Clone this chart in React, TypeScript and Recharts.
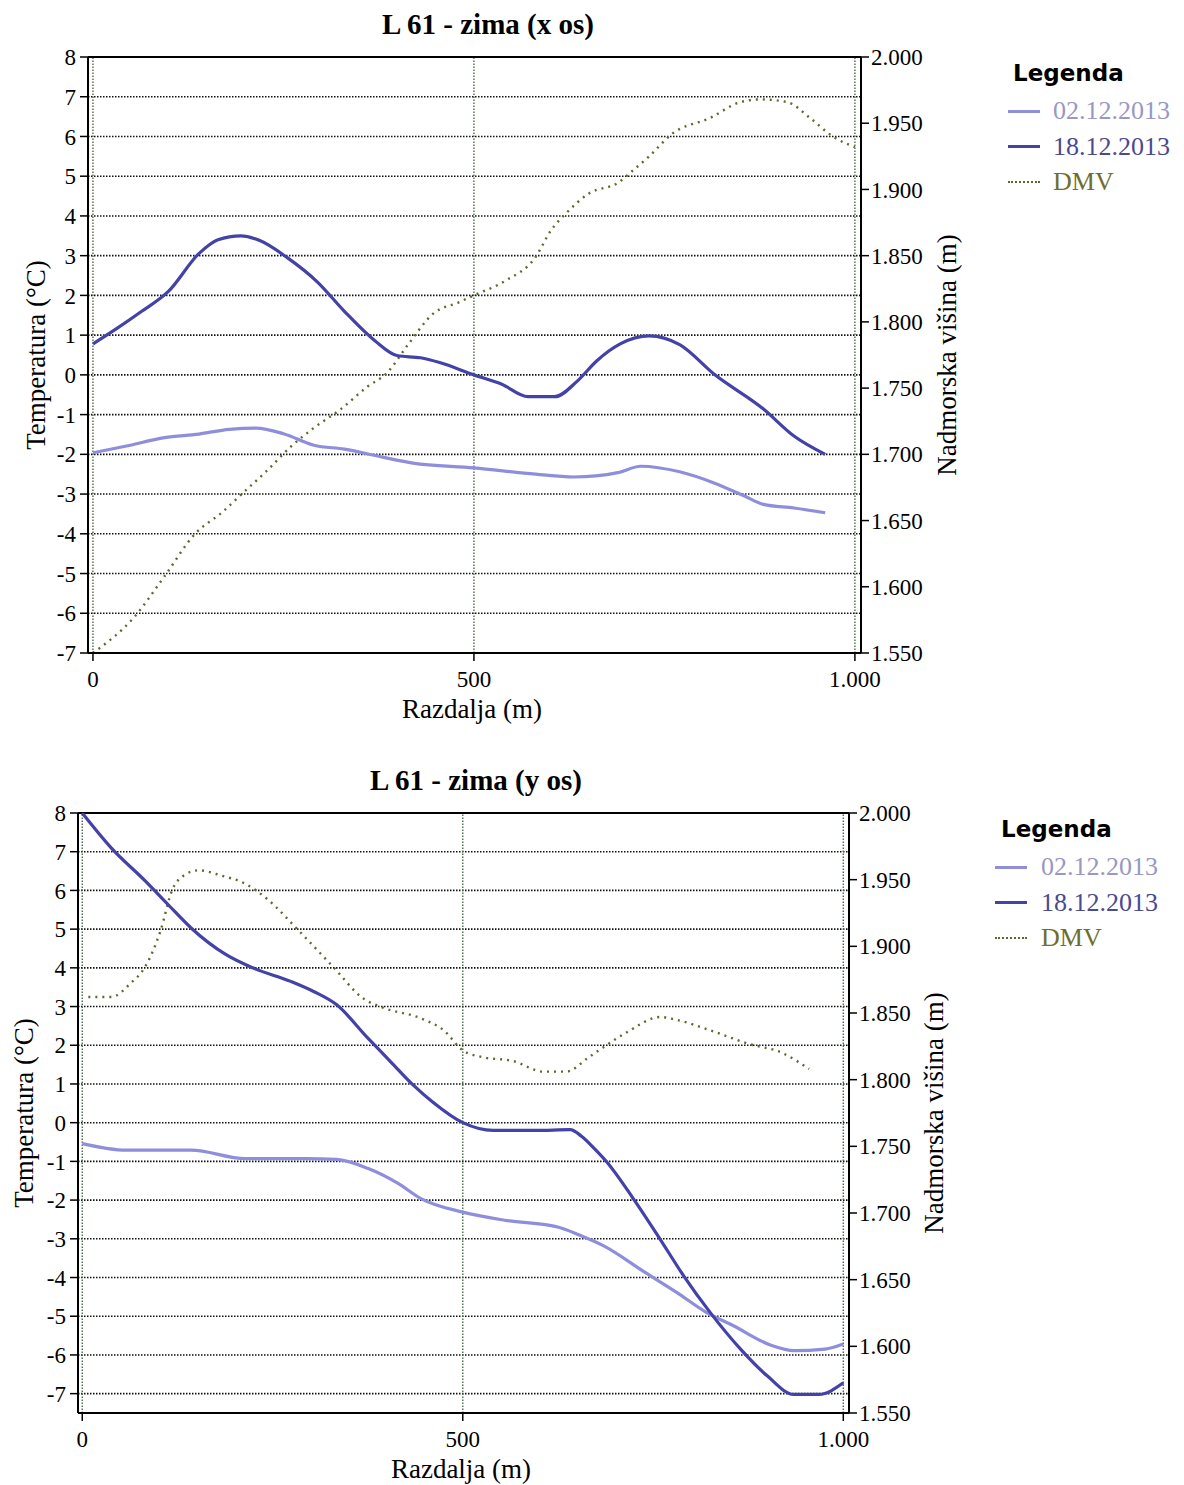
import { LineChart, Line, XAxis, YAxis, CartesianGrid, ReferenceLine } from 'recharts';

// x ticks / axis ticks
const distTicks = [0, 500, 1000];
const tempTicks = [-7, -6, -5, -4, -3, -2, -1, 0, 1, 2, 3, 4, 5, 6, 7, 8];
const elevTicks = [1550, 1600, 1650, 1700, 1750, 1800, 1850, 1900, 1950, 2000];
const seriesNames = ['02.12.2013', '18.12.2013', 'DMV'];

// L 61 - x os
const xLightDist = [0, 44, 94, 139, 179, 214, 250, 290, 330, 380, 420, 500, 581, 631, 689, 719, 770, 815, 855, 880, 920, 961];
const xLightTemp = [-1.96, -1.79, -1.58, -1.49, -1.37, -1.34, -1.48, -1.77, -1.87, -2.07, -2.22, -2.34, -2.5, -2.57, -2.46, -2.3, -2.44, -2.72, -3.05, -3.26, -3.35, -3.47];
const xDarkDist = [0, 30, 64, 99, 139, 164, 194, 219, 255, 295, 330, 370, 400, 430, 455, 500, 536, 571, 606, 636, 661, 692, 730, 770, 815, 880, 920, 961];
const xDarkTemp = [0.78, 1.15, 1.6, 2.1, 3.05, 3.4, 3.5, 3.38, 2.95, 2.33, 1.6, 0.86, 0.48, 0.43, 0.31, 0.0, -0.23, -0.55, -0.55, -0.15, 0.35, 0.78, 0.98, 0.76, 0.02, -0.86, -1.54, -2.0];
const xDmvDist = [0, 54, 94, 134, 169, 199, 229, 260, 290, 325, 360, 385, 415, 446, 481, 500, 541, 581, 601, 621, 651, 689, 710, 730, 760, 810, 850, 876, 911, 941, 971, 1000];
const xDmvElev = [1550, 1577, 1608, 1640, 1656, 1672, 1688, 1706, 1720, 1734, 1751, 1761, 1784, 1806, 1815, 1820, 1831, 1849, 1869, 1882, 1897, 1905, 1915, 1925, 1942, 1954, 1966, 1968, 1966, 1954, 1940, 1932];

// L 61 - y os
const yLightDist = [0, 58, 143, 214, 294, 334, 375, 415, 445, 500, 555, 626, 654, 684, 739, 780, 820, 855, 905, 935, 976, 1000];
const yLightTemp = [-0.54, -0.71, -0.71, -0.93, -0.93, -0.95, -1.18, -1.57, -1.96, -2.31, -2.52, -2.7, -2.91, -3.17, -3.86, -4.37, -4.9, -5.24, -5.75, -5.89, -5.85, -5.72];
const yDarkDist = [0, 38, 83, 113, 143, 189, 224, 274, 304, 334, 375, 405, 435, 460, 500, 540, 596, 641, 656, 672, 689, 724, 759, 790, 825, 865, 900, 935, 968, 1000];
const yDarkTemp = [8.0, 7.1, 6.24, 5.63, 5.03, 4.34, 4.0, 3.65, 3.39, 3.05, 2.19, 1.58, 0.97, 0.54, 0.0, -0.2, -0.2, -0.18, -0.35, -0.65, -1.01, -1.96, -3.0, -3.95, -4.9, -5.85, -6.54, -7.02, -7.02, -6.72];
const yDmvDist = [8, 38, 63, 83, 103, 118, 133, 153, 183, 214, 244, 284, 329, 369, 395, 445, 475, 500, 525, 566, 606, 636, 666, 684, 714, 760, 780, 825, 875, 920, 955];
const yDmvElev = [1862, 1862, 1872, 1885, 1912, 1942, 1953, 1957, 1953, 1947, 1935, 1912, 1885, 1861, 1854, 1846, 1837, 1822, 1817, 1814, 1806, 1806, 1817, 1824, 1835, 1847, 1845, 1837, 1827, 1820, 1808];

const LIGHT = '#8e8edc';
const DARK = '#4242a8';
const DMV = '#5c6a2c';
const SERIF = '"Liberation Serif", "Times New Roman", serif';

const toPoints = (dist: number[], vals: number[]) => dist.map((d, i) => ({ d, v: vals[i] }));

const fmt = (v: number) =>
  v >= 1000 ? `${Math.floor(v / 1000)}.${String(v % 1000).padStart(3, '0')}` : `${v}`;

const tickStyle = { fill: '#000', fontSize: 23, fontFamily: SERIF };

function Centered({ x, y, size, bold, rotate, children }: any) {
  return (
    <div
      style={{
        position: 'absolute',
        left: x,
        top: y,
        transform: `translate(-50%, -50%)${rotate ? ' rotate(-90deg)' : ''}`,
        fontFamily: SERIF,
        fontSize: size,
        fontWeight: bold ? 'bold' : 'normal',
        lineHeight: 1,
        whiteSpace: 'nowrap',
        color: '#000',
      }}
    >
      {children}
    </div>
  );
}

function Legend({ x, y, sampleX, textX }: { x: number; y: number; sampleX: number; textX: number }) {
  const rows = [
    { name: seriesNames[0], color: LIGHT, text: '#9898c4', dash: false },
    { name: seriesNames[1], color: DARK, text: '#4a4a90', dash: false },
    { name: seriesNames[2], color: DMV, text: '#6e6e30', dash: true },
  ];
  return (
    <>
      <div
        style={{
          position: 'absolute',
          left: x,
          top: y,
          transform: 'translateY(-50%)',
          fontFamily: '"DejaVu Sans", Verdana, sans-serif',
          fontWeight: 'bold',
          fontSize: 23,
          lineHeight: 1,
        }}
      >
        Legenda
      </div>
      {rows.map((r, i) => (
        <div key={r.name}>
          <div
            style={{
              position: 'absolute',
              left: sampleX,
              top: y + 38 + i * 35.5 - 1.5,
              width: 32,
              height: 0,
              borderTop: r.dash ? `2px dotted ${r.color}` : `3px solid ${r.color}`,
            }}
          />
          <div
            style={{
              position: 'absolute',
              left: textX,
              top: y + 38 + i * 35.5,
              transform: 'translateY(-50%)',
              fontFamily: SERIF,
              fontSize: 26,
              lineHeight: 1,
              color: r.text,
              whiteSpace: 'nowrap',
            }}
          >
            {r.name}
          </div>
        </div>
      ))}
    </>
  );
}

interface ProfileProps {
  top: number;
  title: string;
  titleX: number;
  plotLeft: number;
  plotRight: number;
  plotHeight: number;
  xDomain: [number, number];
  tempMin: number;
  light: { d: number; v: number }[];
  dark: { d: number; v: number }[];
  dmv: { d: number; v: number }[];
  labelX: number;
  leftTitleX: number;
  rightTitleX: number;
  legendX: number;
  sampleX: number;
  legendTextX: number;
}

function Profile(p: ProfileProps) {
  const marginTop = 57;
  const height = marginTop + p.plotHeight + 47;
  const midY = marginTop + p.plotHeight / 2;
  return (
    <div style={{ position: 'absolute', left: 0, top: p.top, width: 1184, height: height + 20 }}>
      <LineChart
        width={1184}
        height={height}
        margin={{ top: marginTop, right: 1184 - p.plotRight - 80, left: 0, bottom: 7 }}
      >
        <CartesianGrid
          yAxisId="left"
          vertical={false}
          stroke="#111"
          strokeDasharray="1.5 1.5"
          strokeWidth={1.6}
        />
        <XAxis
          dataKey="d"
          type="number"
          domain={p.xDomain}
          allowDataOverflow
          ticks={distTicks}
          tickFormatter={fmt}
          height={40}
          tickSize={8}
          tickMargin={10}
          axisLine={{ stroke: '#000', strokeWidth: 2 }}
          tickLine={{ stroke: '#000', strokeWidth: 1.5 }}
          tick={tickStyle}
        />
        <YAxis
          yAxisId="left"
          type="number"
          domain={[p.tempMin, 8]}
          allowDataOverflow
          ticks={tempTicks}
          width={p.plotLeft}
          tickSize={8}
          tickMargin={4}
          axisLine={{ stroke: '#000', strokeWidth: 2 }}
          tickLine={{ stroke: '#000', strokeWidth: 1.5 }}
          tick={tickStyle}
        />
        <YAxis
          yAxisId="right"
          orientation="right"
          type="number"
          domain={[1550, 2000]}
          allowDataOverflow
          ticks={elevTicks}
          tickFormatter={fmt}
          width={80}
          tickSize={8}
          tickMargin={2}
          axisLine={{ stroke: '#000', strokeWidth: 2 }}
          tickLine={{ stroke: '#000', strokeWidth: 1.5 }}
          tick={tickStyle}
        />
        {distTicks.map((t) => (
          <ReferenceLine key={t} x={t} yAxisId="left" stroke="#4a6e4a" strokeDasharray="1.5 1.5" strokeWidth={1.4} />
        ))}
        <ReferenceLine y={8} yAxisId="left" stroke="#000" strokeWidth={2} />
        <Line
          yAxisId="right"
          data={p.dmv}
          dataKey="v"
          type="monotone"
          stroke={DMV}
          strokeWidth={2.4}
          strokeDasharray="2 5"
          dot={false}
          isAnimationActive={false}
        />
        <Line
          yAxisId="left"
          data={p.light}
          dataKey="v"
          type="monotone"
          stroke={LIGHT}
          strokeWidth={3.2}
          dot={false}
          isAnimationActive={false}
        />
        <Line
          yAxisId="left"
          data={p.dark}
          dataKey="v"
          type="monotone"
          stroke={DARK}
          strokeWidth={3.2}
          dot={false}
          isAnimationActive={false}
        />
      </LineChart>
      <Centered x={p.titleX} y={24} size={29} bold>
        {p.title}
      </Centered>
      <Centered x={p.labelX} y={marginTop + p.plotHeight + 56} size={27}>
        Razdalja (m)
      </Centered>
      <Centered x={p.leftTitleX} y={midY} size={27} rotate>
        Temperatura (°C)
      </Centered>
      <Centered x={p.rightTitleX} y={midY} size={27} rotate>
        Nadmorska višina (m)
      </Centered>
      <Legend x={p.legendX} y={73} sampleX={p.sampleX} textX={p.legendTextX} />
    </div>
  );
}

export default function App() {
  return (
    <div style={{ position: 'absolute', left: 0, top: 0, width: 1184, height: 1485, background: '#fff' }}>
      <Profile
        top={0}
        title="L 61 - zima (x os)"
        titleX={488}
        plotLeft={88}
        plotRight={861}
        plotHeight={596}
        xDomain={[-6.5, 1008]}
        tempMin={-7}
        light={toPoints(xLightDist, xLightTemp)}
        dark={toPoints(xDarkDist, xDarkTemp)}
        dmv={toPoints(xDmvDist, xDmvElev)}
        labelX={472}
        leftTitleX={36}
        rightTitleX={947}
        legendX={1013}
        sampleX={1008}
        legendTextX={1053}
      />
      <Profile
        top={756}
        title="L 61 - zima (y os)"
        titleX={476}
        plotLeft={78}
        plotRight={849}
        plotHeight={600}
        xDomain={[-5.6, 1007.5]}
        tempMin={-7.5}
        light={toPoints(yLightDist, yLightTemp)}
        dark={toPoints(yDarkDist, yDarkTemp)}
        dmv={toPoints(yDmvDist, yDmvElev)}
        labelX={461}
        leftTitleX={24}
        rightTitleX={934}
        legendX={1001}
        sampleX={995}
        legendTextX={1041}
      />
    </div>
  );
}
